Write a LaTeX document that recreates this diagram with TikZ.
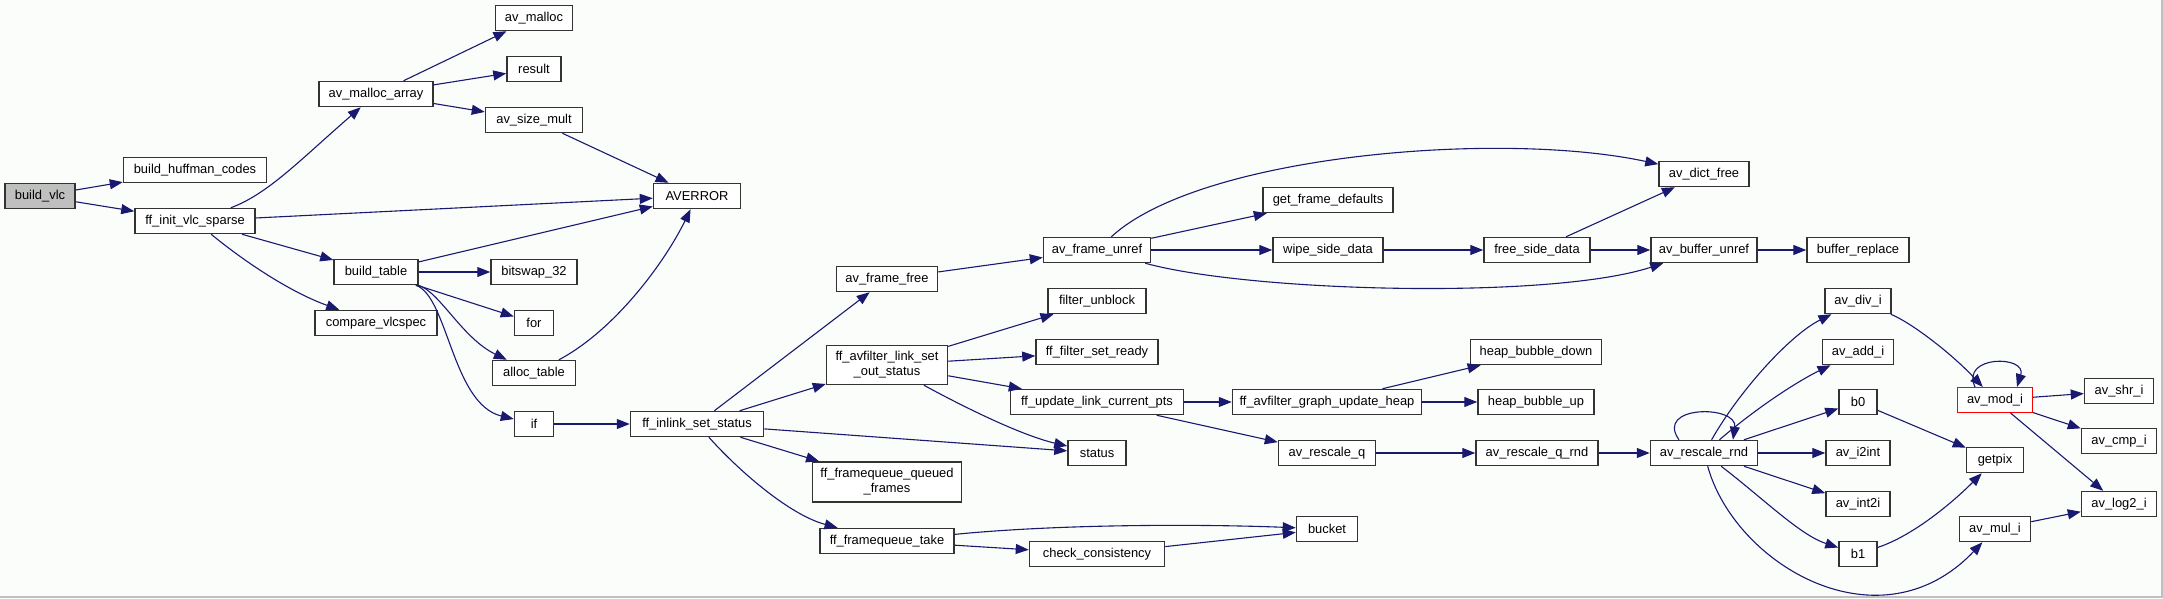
\documentclass[tikz,border=0pt]{standalone}
\usepackage{fontspec}
\setmainfont{Liberation Sans}
\usetikzlibrary{arrows.meta}
\definecolor{callblue}{RGB}{25,25,112}
\definecolor{pagebg}{RGB}{251,253,251}

\begin{document}
\begin{tikzpicture}[
    x=1pt, y=-1pt,
    fn/.style={draw=black!80, line width=1.5pt, fill=white, minimum height=25pt, inner xsep=3pt, inner ysep=2pt, align=center, font=\fontsize{12.9}{15}\selectfont},
    call/.style={-{Triangle[length=13pt, width=10pt]}, line width=1.1pt, draw=callblue}
  ]
  % Page and frame
  \useasboundingbox (0,0) rectangle (2163,598);
  \fill[pagebg] (0,0) rectangle (2163,598);
  \draw[black!25, line width=1.5pt] (0,597) -- (2162,597) -- (2162,0);

  % Caller
  \node[fn, fill=black!25, minimum width=70pt] (buildvlc) at (40,196) {build\_vlc};

  % Rank 1
  \node[fn, minimum width=143pt] (huffman) at (195,170) {build\_huffman\_codes};
  \node[fn, minimum width=120pt] (initvlc) at (195,221) {ff\_init\_vlc\_sparse};

  % Rank 2
  \node[fn, minimum width=114pt] (mallocarr) at (376,94) {av\_malloc\_array};
  \node[fn, minimum width=84pt] (buildtab) at (376,272) {build\_table};
  \node[fn, minimum width=122pt] (cmpvlc) at (376,323) {compare\_vlcspec};

  % Rank 3
  \node[fn, minimum width=77pt] (avmalloc) at (534,18) {av\_malloc};
  \node[fn, minimum width=54pt] (result) at (534,69) {result};
  \node[fn, minimum width=97pt] (sizemult) at (534,120) {av\_size\_mult};
  \node[fn, minimum width=86pt] (bitswap) at (534,272) {bitswap\_32};
  \node[fn, minimum width=39pt] (forloop) at (534,323) {for};
  \node[fn, minimum width=83pt] (alloctab) at (534,373) {alloc\_table};
  \node[fn, minimum width=39pt] (ifn) at (534,424) {if};

  % Rank 4
  \node[fn, minimum width=87pt] (averror) at (697,196) {AVERROR};
  \node[fn, minimum width=133pt] (inlink) at (697,424) {ff\_inlink\_set\_status};

  % Rank 5
  \node[fn, minimum width=101pt] (framefree) at (887,279) {av\_frame\_free};
  \node[fn, minimum width=121pt, minimum height=39pt] (outstatus) at (887,365) {ff\_avfilter\_link\_set\\\_out\_status};
  \node[fn, minimum width=149pt, minimum height=40pt] (queued) at (887,482) {ff\_framequeue\_queued\\\_frames};
  \node[fn, minimum width=134pt] (fqtake) at (887,541) {ff\_framequeue\_take};

  % Rank 6
  \node[fn, minimum width=107pt] (frameunref) at (1097,250) {av\_frame\_unref};
  \node[fn, minimum width=98pt] (unblock) at (1097,301) {filter\_unblock};
  \node[fn, minimum width=122pt] (setready) at (1097,352) {ff\_filter\_set\_ready};
  \node[fn, minimum width=173pt] (updpts) at (1097,402) {ff\_update\_link\_current\_pts};
  \node[fn, minimum width=58pt] (status) at (1097,453) {status};
  \node[fn, minimum width=135pt] (checkcons) at (1097,554) {check\_consistency};

  % Rank 7
  \node[fn, minimum width=130pt] (getdef) at (1328,200) {get\_frame\_defaults};
  \node[fn, minimum width=110pt] (wipe) at (1328,250) {wipe\_side\_data};
  \node[fn, minimum width=189pt] (graphheap) at (1327,402) {ff\_avfilter\_graph\_update\_heap};
  \node[fn, minimum width=97pt] (rescaleq) at (1327,453) {av\_rescale\_q};
  \node[fn, minimum width=61pt] (bucket) at (1327,529) {bucket};

  % Rank 8
  \node[fn, minimum width=106pt] (freeside) at (1537,250) {free\_side\_data};
  \node[fn, minimum width=131pt] (bubdown) at (1536,352) {heap\_bubble\_down};
  \node[fn, minimum width=116pt] (bubup) at (1536,402) {heap\_bubble\_up};
  \node[fn, minimum width=122pt] (rescaleqrnd) at (1537,453) {av\_rescale\_q\_rnd};

  % Rank 9
  \node[fn, minimum width=90pt] (dictfree) at (1704,174) {av\_dict\_free};
  \node[fn, minimum width=106pt] (bufunref) at (1704,250) {av\_buffer\_unref};
  \node[fn, minimum width=107pt] (rescalernd) at (1704,453) {av\_rescale\_rnd};

  % Rank 10
  \node[fn, minimum width=102pt] (bufreplace) at (1858,250) {buffer\_replace};
  \node[fn, minimum width=66pt] (divi) at (1858,301) {av\_div\_i};
  \node[fn, minimum width=71pt] (addi) at (1858,352) {av\_add\_i};
  \node[fn, minimum width=38pt] (bzero) at (1858,402) {b0};
  \node[fn, minimum width=64pt] (itoint) at (1858,453) {av\_i2int};
  \node[fn, minimum width=64pt] (inttoi) at (1858,504) {av\_int2i};
  \node[fn, minimum width=38pt] (bone) at (1858,554) {b1};

  % Rank 11
  \node[fn, draw=red, line width=1pt, minimum width=75pt] (modi) at (1995,400) {av\_mod\_i};
  \node[fn, minimum width=57pt] (getpix) at (1995,460) {getpix};
  \node[fn, minimum width=71pt] (muli) at (1995,529) {av\_mul\_i};

  % Rank 12
  \node[fn, minimum width=69pt] (shri) at (2119,391) {av\_shr\_i};
  \node[fn, minimum width=75pt] (cmpi) at (2119,441) {av\_cmp\_i};
  \node[fn, minimum width=75pt] (logi) at (2119,504) {av\_log2\_i};

  % Calls
  \draw[call] (buildvlc) -- (huffman);
  \draw[call] (buildvlc) -- (initvlc);
  \draw[call] (initvlc) .. controls (268,194) and (300,160) .. (mallocarr);
  \draw[call] (initvlc) -- (averror);
  \draw[call] (initvlc) -- (buildtab);
  \draw[call] (initvlc) .. controls (245,262) and (290,292) .. (cmpvlc);
  \draw[call] (mallocarr) -- (avmalloc);
  \draw[call] (mallocarr) -- (result);
  \draw[call] (mallocarr) -- (sizemult);
  \draw[call] (sizemult) -- (averror);
  \draw[call] (buildtab) -- (averror);
  \draw[call] (buildtab) -- (bitswap);
  \draw[call] (buildtab) -- (forloop);
  \draw[call] (buildtab) .. controls (440,292) and (462,338) .. (alloctab);
  \draw[call] (buildtab) .. controls (448,296) and (452,404) .. (ifn);
  \draw[call] (alloctab) .. controls (615,330) and (665,262) .. (averror);
  \draw[call] (ifn) -- (inlink);
  \draw[call] (inlink) -- (framefree);
  \draw[call] (inlink) -- (outstatus);
  \draw[call] (inlink) -- (status);
  \draw[call] (inlink) -- (queued);
  \draw[call] (inlink) .. controls (740,472) and (790,515) .. (fqtake);
  \draw[call] (framefree) -- (frameunref);
  \draw[call] (outstatus) -- (unblock);
  \draw[call] (outstatus) -- (setready);
  \draw[call] (outstatus) -- (updpts);
  \draw[call] (outstatus) .. controls (960,405) and (1020,435) .. (status);
  \draw[call] (fqtake) .. controls (1060,524) and (1200,524) .. (bucket);
  \draw[call] (fqtake) -- (checkcons);
  \draw[call] (checkcons) -- (bucket);
  \draw[call] (frameunref) .. controls (1200,155) and (1500,130) .. (dictfree);
  \draw[call] (frameunref) -- (getdef);
  \draw[call] (frameunref) -- (wipe);
  \draw[call] (frameunref) .. controls (1250,292) and (1550,300) .. (bufunref);
  \draw[call] (wipe) -- (freeside);
  \draw[call] (freeside) -- (dictfree);
  \draw[call] (freeside) -- (bufunref);
  \draw[call] (bufunref) -- (bufreplace);
  \draw[call] (updpts) -- (graphheap);
  \draw[call] (updpts) -- (rescaleq);
  \draw[call] (graphheap) -- (bubdown);
  \draw[call] (graphheap) -- (bubup);
  \draw[call] (rescaleq) -- (rescaleqrnd);
  \draw[call] (rescaleqrnd) -- (rescalernd);
  \draw[call] ([xshift=-25pt]rescalernd.north) .. controls +(-25,-35) and +(5,-35) .. ([xshift=29pt]rescalernd.north);
  \draw[call] (rescalernd) .. controls (1740,390) and (1790,335) .. (divi);
  \draw[call] (rescalernd) .. controls (1760,405) and (1800,380) .. (addi);
  \draw[call] (rescalernd) -- (bzero);
  \draw[call] (rescalernd) -- (itoint);
  \draw[call] (rescalernd) -- (inttoi);
  \draw[call] (rescalernd) .. controls (1765,500) and (1800,535) .. (bone);
  \draw[call] (rescalernd) .. controls (1735,565) and (1880,650) .. (muli);
  \draw[call] (divi) .. controls (1910,322) and (1950,352) .. (modi);
  \draw[call] ([xshift=-20pt]modi.north) .. controls +(-15,-32) and +(10,-32) .. ([xshift=22pt]modi.north);
  \draw[call] (modi) -- (shri);
  \draw[call] (modi) -- (cmpi);
  \draw[call] (modi) -- (logi);
  \draw[call] (bzero) -- (getpix);
  \draw[call] (bone) .. controls (1915,535) and (1955,500) .. (getpix);
  \draw[call] (muli) -- (logi);
\end{tikzpicture}
\end{document}
